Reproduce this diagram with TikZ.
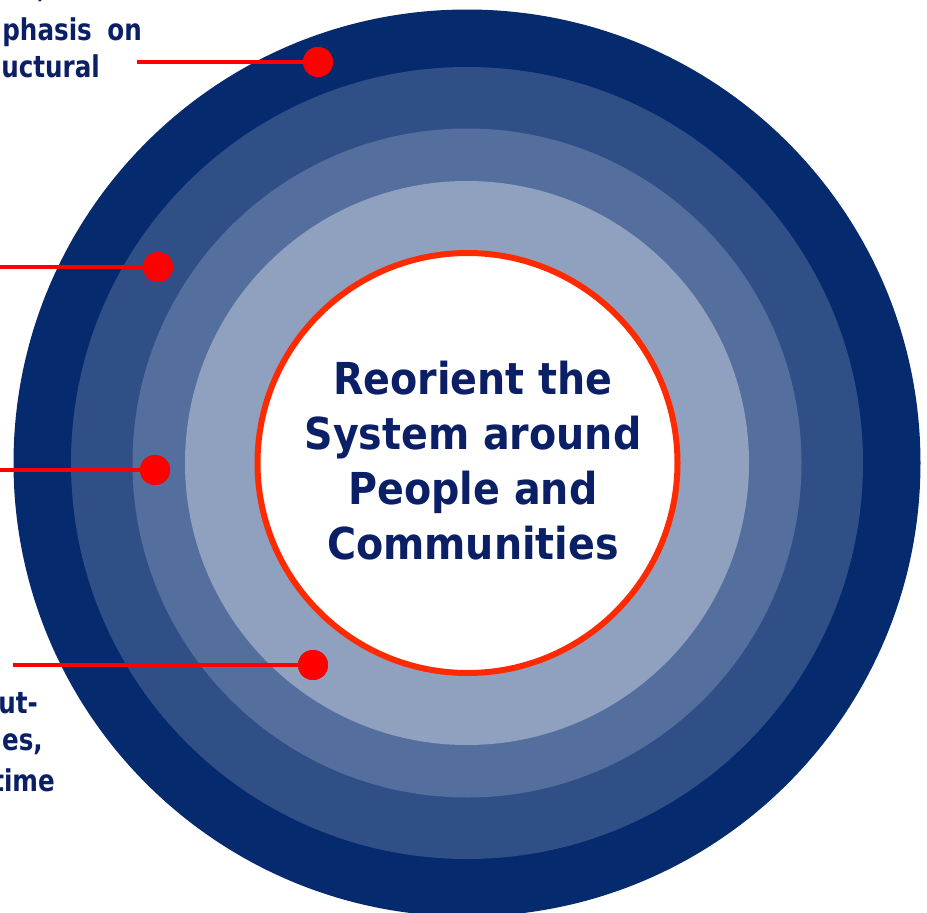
\documentclass[tikz,border=0pt]{standalone}
\usepackage{fontspec}
\newfontfamily\labfont[FakeStretch=0.9]{DejaVu Sans}
\newfontfamily\sidefont[FakeStretch=0.82]{DejaVu Sans}
\definecolor{ringA}{HTML}{052A6E}
\definecolor{ringB}{HTML}{304F87}
\definecolor{ringC}{HTML}{546F9E}
\definecolor{ringD}{HTML}{8FA1BF}
\definecolor{coreRed}{HTML}{FF2A00}
\definecolor{dotRed}{HTML}{FF0000}
\definecolor{textNavy}{HTML}{0B1F66}
\tikzset{
  dotmark/.style={circle, fill=dotRed, minimum size=30pt, inner sep=0pt},
  lead/.style={draw=dotRed, line width=4.5pt},
  sidelabel/.style={font=\sidefont\bfseries\fontsize{30}{37}\selectfont, text=textNavy, inner sep=0pt},
}
\begin{document}
\begin{tikzpicture}[x=1pt,y=-1pt]
\useasboundingbox (0,0) rectangle (927,913);
\clip (0,0) rectangle (927,913);
% rings
\fill[ringA] (467,463) circle[radius=453.5pt];
\fill[ringB] (467,463) circle[radius=396pt];
\fill[ringC] (467,463) circle[radius=334.5pt];
\fill[ringD] (467,463) circle[radius=282pt];
% core
\node[circle, draw=coreRed, line width=6pt, fill=white, minimum size=420pt, inner sep=0pt] (core) at (467.5,463) {};
\node[font=\labfont\bfseries\fontsize{44}{55}\selectfont, text=textNavy, align=center, inner sep=0pt] (title) at (473,461)
  {Reorient the\\System around\\People and\\Communities};
% leaders
\coordinate (s1) at (137,62);
\coordinate (s2) at (0,267);
\coordinate (s3) at (0,470);
\coordinate (s4) at (13,665);
\node[dotmark] (d1) at (318,62) {};
\node[dotmark] (d2) at (158,267) {};
\node[dotmark] (d3) at (155,470) {};
\node[dotmark] (d4) at (313,665) {};
\draw[lead] (s1) -- (d1.center);
\draw[lead] (s2) -- (d2.center);
\draw[lead] (s3) -- (d3.center);
\draw[lead] (s4) -- (d4.center);
\node[dotmark] at (d1) {};
\node[dotmark] at (d2) {};
\node[dotmark] at (d3) {};
\node[dotmark] at (d4) {};
% side labels (cut off at the left edge)
\node[sidelabel, anchor=base west] (t0) at (37,-3) {,};
\node[sidelabel, anchor=base east] (t1) at (142,40) {phasis\hspace{7pt} on};
\node[sidelabel, anchor=base east] (t2) at (100,77) {uctural};
\node[sidelabel, anchor=base east] (b1) at (38,713) {ut-};
\node[sidelabel, anchor=base east] (b2) at (43,750) {es,};
\node[sidelabel, anchor=base east] (b3) at (55,791) {time};
\end{tikzpicture}
\end{document}
